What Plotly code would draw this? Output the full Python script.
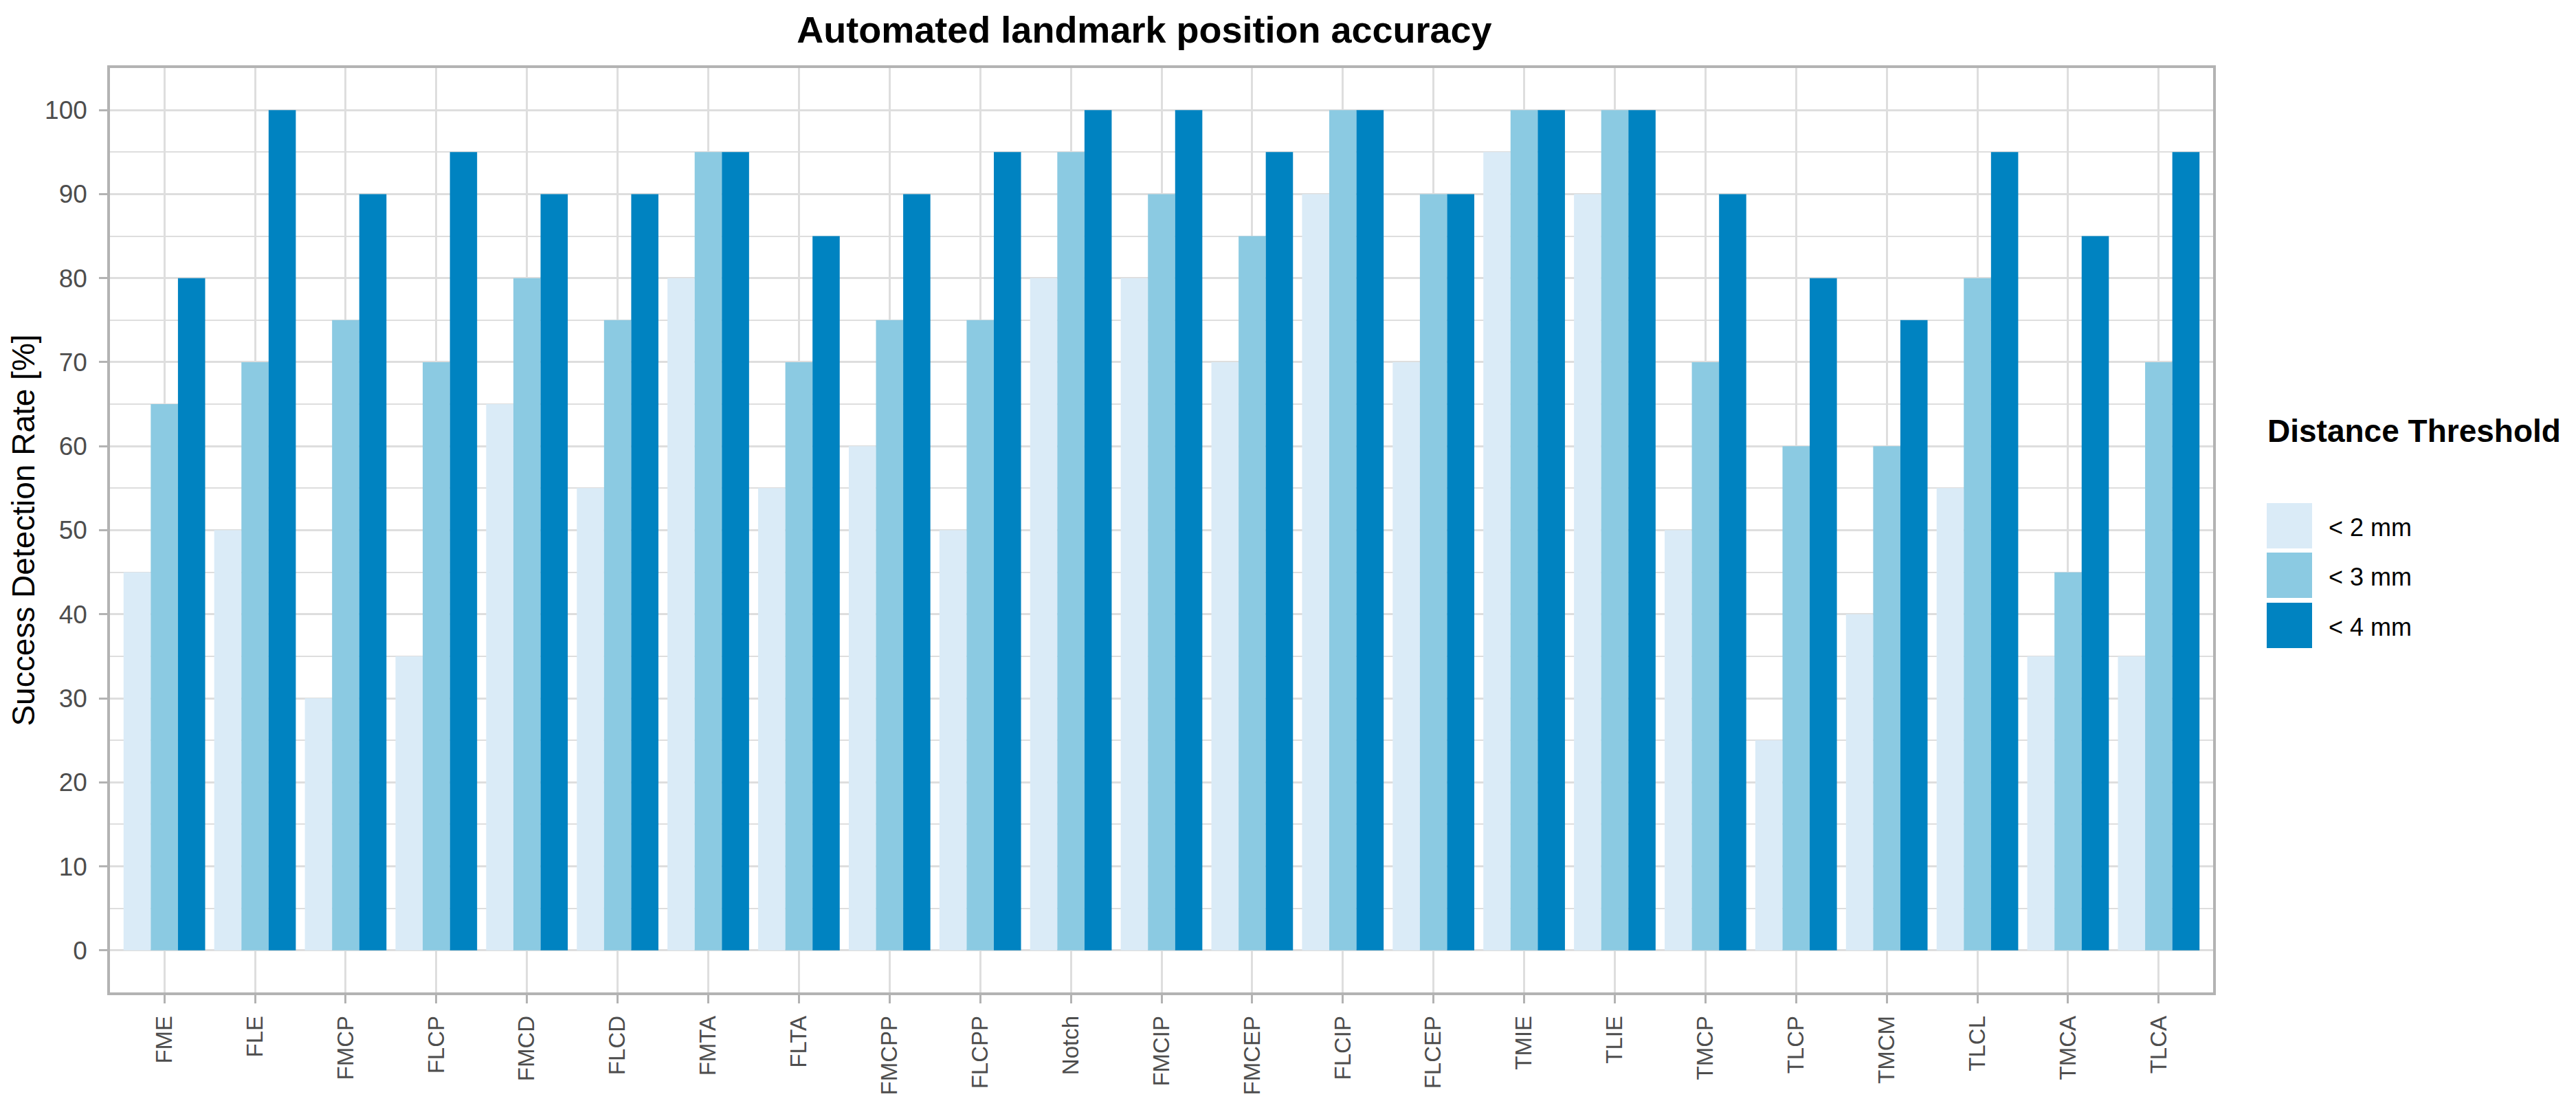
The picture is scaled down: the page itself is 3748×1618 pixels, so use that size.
import plotly.graph_objects as go

categories = ["FME", "FLE", "FMCP", "FLCP", "FMCD", "FLCD", "FMTA", "FLTA", "FMCPP", "FLCPP",
              "Notch", "FMCIP", "FMCEP", "FLCIP", "FLCEP", "TMIE", "TLIE", "TMCP", "TLCP",
              "TMCM", "TLCL", "TMCA", "TLCA"]
lt2mm = [45, 50, 30, 35, 65, 55, 80, 55, 60, 50, 80, 80, 70, 90, 70, 95, 90, 50, 25, 40, 55, 35, 35]
lt3mm = [65, 70, 75, 70, 80, 75, 95, 70, 75, 75, 95, 90, 85, 100, 90, 100, 100, 70, 60, 60, 80, 45, 70]
lt4mm = [80, 100, 90, 95, 90, 90, 95, 85, 90, 95, 100, 100, 95, 100, 90, 100, 100, 90, 80, 75, 95, 85, 95]
series_names = ["< 2 mm", "< 3 mm", "< 4 mm"]
series_values = [lt2mm, lt3mm, lt4mm]
colors = ["#DAEBF7", "#8BCAE2", "#0083C1"]
y_ticks = list(range(0, 101, 10))

FONT = "Liberation Sans, Arial, sans-serif"
W, H = 3748, 1618
L, R, T, B = 152, 3212, 91, 1436  # plot panel pixel box

fig = go.Figure()
for name, vals, col in zip(series_names, series_values, colors):
    fig.add_trace(go.Bar(x=categories, y=vals, name=name, marker=dict(color=col, line=dict(width=0)),
                         showlegend=False))

def px2paper_x(px):
    return (px - L) / (R - L)

def px2paper_y(py):
    return (B - py) / (B - T)

shapes = []
annotations = []
# legend title
annotations.append(dict(text="<b>Distance Threshold</b>", x=px2paper_x(3289), y=px2paper_y(619),
                        xref="paper", yref="paper", xanchor="left", yanchor="middle", showarrow=False,
                        font=dict(family=FONT, size=46, color="black")))
key_tops = [724, 796, 869]
for name, col, top in zip(series_names, colors, key_tops):
    shapes.append(dict(type="rect", xref="paper", yref="paper", x0=px2paper_x(3290), x1=px2paper_x(3356),
                       y0=px2paper_y(top), y1=px2paper_y(top + 66), fillcolor=col, line=dict(width=0)))
    annotations.append(dict(text=name, x=px2paper_x(3378), y=px2paper_y(top + 35), xref="paper", yref="paper",
                            xanchor="left", yanchor="middle", showarrow=False,
                            font=dict(family=FONT, size=36, color="black")))

fig.update_layout(
    width=W, height=H,
    margin=dict(l=L, r=W - R, t=T, b=H - B, autoexpand=False),
    paper_bgcolor="white", plot_bgcolor="white",
    barmode="group", bargap=0.1, bargroupgap=0,
    font=dict(family=FONT, color="#4D4D4D"),
    title=dict(text="<b>Automated landmark position accuracy</b>", x=1657 / W, xref="container",
               y=1 - 35 / H, yref="container", xanchor="center", yanchor="middle",
               font=dict(family=FONT, size=54, color="black")),
    shapes=shapes, annotations=annotations,
    showlegend=False,
)
fig.update_xaxes(
    type="category", range=[-0.6, len(categories) - 0.4],
    showgrid=True, gridcolor="#DEDEDE", gridwidth=2.5,
    showline=True, mirror=True, linecolor="#B3B3B3", linewidth=3.5,
    ticks="outside", ticklen=12, tickwidth=3, tickcolor="#B3B3B3",
    tickangle=-90, tickfont=dict(family=FONT, size=33, color="#4D4D4D"),
    ticklabelstandoff=5, zeroline=False,
)
fig.update_yaxes(
    range=[-5, 105], tickvals=y_ticks,
    showgrid=True, gridcolor="#DEDEDE", gridwidth=2.5,
    minor=dict(dtick=5, showgrid=True, gridcolor="#DEDEDE", gridwidth=1.8),
    showline=True, mirror=True, linecolor="#B3B3B3", linewidth=3.5,
    ticks="outside", ticklen=12, tickwidth=3, tickcolor="#B3B3B3",
    tickfont=dict(family=FONT, size=37, color="#4D4D4D"),
    ticklabelstandoff=10, zeroline=False,
    title=dict(text="Success Detection Rate [%]", font=dict(family=FONT, size=46, color="black"), standoff=10),
)

fig.write_html("out.html")
